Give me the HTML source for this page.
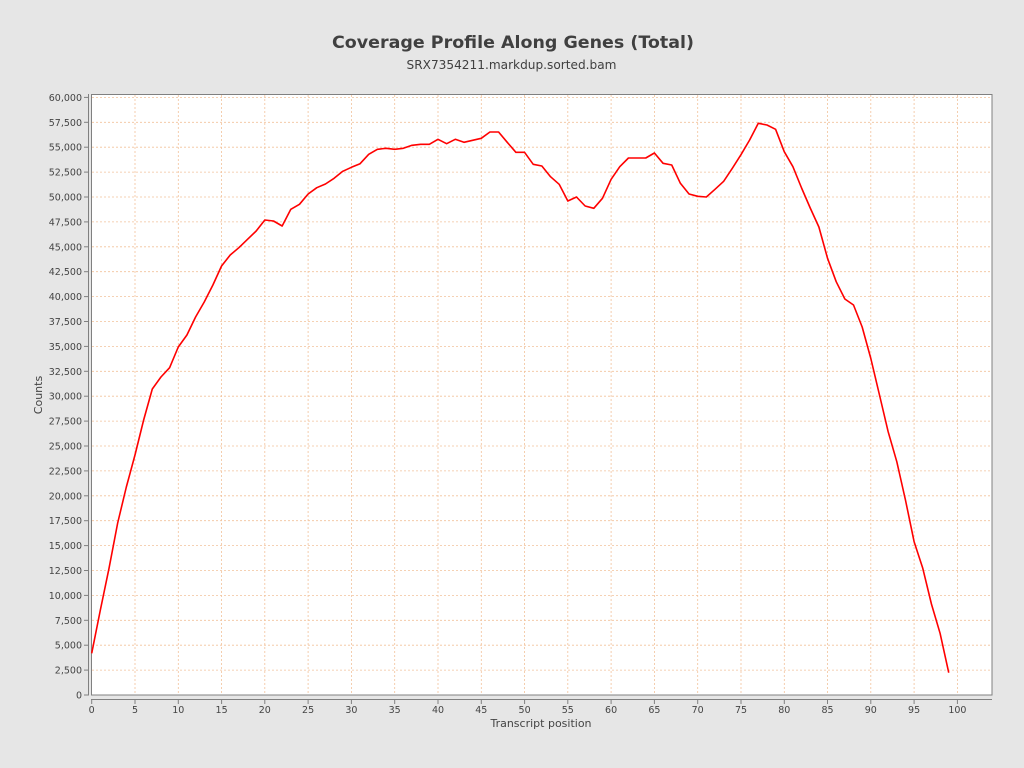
<!DOCTYPE html>
<html>
<head>
<meta charset="utf-8">
<style>
  html, body { margin: 0; padding: 0; background: #e6e6e6; }
  svg { display: block; }
  text { font-family: "DejaVu Sans", "Liberation Sans", sans-serif; }
</style>
</head>
<body>
<svg width="1024" height="768" viewBox="0 0 1024 768" xmlns="http://www.w3.org/2000/svg">
  <rect x="0" y="0" width="1024" height="768" fill="#e6e6e6"/>
  <!-- Title -->
  <text x="513" y="48" text-anchor="middle" font-size="17" font-weight="bold" fill="#404040" textLength="362" lengthAdjust="spacingAndGlyphs">Coverage Profile Along Genes (Total)</text>
  <text x="511.5" y="69" text-anchor="middle" font-size="12" fill="#404040" textLength="210" lengthAdjust="spacingAndGlyphs">SRX7354211.markdup.sorted.bam</text>

  <!-- Plot area -->
  <rect x="91.5" y="94.5" width="900.5" height="600.5" fill="#ffffff"/>

  <!-- Grid -->
  <g stroke="#f2c29b" stroke-width="0.8" stroke-dasharray="2,2" fill="none">
    <line x1="92" y1="97.4" x2="992" y2="97.4"/>
    <line x1="92" y1="122.3" x2="992" y2="122.3"/>
    <line x1="92" y1="147.2" x2="992" y2="147.2"/>
    <line x1="92" y1="172.1" x2="992" y2="172.1"/>
    <line x1="92" y1="197.0" x2="992" y2="197.0"/>
    <line x1="92" y1="221.9" x2="992" y2="221.9"/>
    <line x1="92" y1="246.8" x2="992" y2="246.8"/>
    <line x1="92" y1="271.7" x2="992" y2="271.7"/>
    <line x1="92" y1="296.6" x2="992" y2="296.6"/>
    <line x1="92" y1="321.5" x2="992" y2="321.5"/>
    <line x1="92" y1="346.4" x2="992" y2="346.4"/>
    <line x1="92" y1="371.3" x2="992" y2="371.3"/>
    <line x1="92" y1="396.2" x2="992" y2="396.2"/>
    <line x1="92" y1="421.1" x2="992" y2="421.1"/>
    <line x1="92" y1="446.0" x2="992" y2="446.0"/>
    <line x1="92" y1="470.9" x2="992" y2="470.9"/>
    <line x1="92" y1="495.8" x2="992" y2="495.8"/>
    <line x1="92" y1="520.7" x2="992" y2="520.7"/>
    <line x1="92" y1="545.6" x2="992" y2="545.6"/>
    <line x1="92" y1="570.5" x2="992" y2="570.5"/>
    <line x1="92" y1="595.4" x2="992" y2="595.4"/>
    <line x1="92" y1="620.3" x2="992" y2="620.3"/>
    <line x1="92" y1="645.2" x2="992" y2="645.2"/>
    <line x1="92" y1="670.1" x2="992" y2="670.1"/>

    <line x1="135.0" y1="95" x2="135.0" y2="695"/>
    <line x1="178.3" y1="95" x2="178.3" y2="695"/>
    <line x1="221.6" y1="95" x2="221.6" y2="695"/>
    <line x1="264.8" y1="95" x2="264.8" y2="695"/>
    <line x1="308.1" y1="95" x2="308.1" y2="695"/>
    <line x1="351.4" y1="95" x2="351.4" y2="695"/>
    <line x1="394.7" y1="95" x2="394.7" y2="695"/>
    <line x1="438.0" y1="95" x2="438.0" y2="695"/>
    <line x1="481.3" y1="95" x2="481.3" y2="695"/>
    <line x1="524.6" y1="95" x2="524.6" y2="695"/>
    <line x1="567.8" y1="95" x2="567.8" y2="695"/>
    <line x1="611.1" y1="95" x2="611.1" y2="695"/>
    <line x1="654.4" y1="95" x2="654.4" y2="695"/>
    <line x1="697.7" y1="95" x2="697.7" y2="695"/>
    <line x1="741.0" y1="95" x2="741.0" y2="695"/>
    <line x1="784.3" y1="95" x2="784.3" y2="695"/>
    <line x1="827.5" y1="95" x2="827.5" y2="695"/>
    <line x1="870.8" y1="95" x2="870.8" y2="695"/>
    <line x1="914.1" y1="95" x2="914.1" y2="695"/>
    <line x1="957.4" y1="95" x2="957.4" y2="695"/>
  </g>

  <!-- Plot border -->
  <rect x="91.5" y="94.5" width="900.5" height="600.5" fill="none" stroke="#808080" stroke-width="1"/>

  <!-- Data line -->
  <g transform="translate(91.7,0) scale(8.657,1)">
    <polyline fill="none" stroke="#ff0000" stroke-width="1.6" vector-effect="non-scaling-stroke" stroke-linejoin="round"
      points="0,653.3 1,610 2,568.3 3,523 4,487 5,455 6,420 7,389 8,377 9,367.7 10,347 11,335 12,317 13,302 14,285 15,266 16,255 17,247.7 18,239.3 19,231 20,220 21,221 22,226 23,209.3 24,204.3 25,194 26,187.7 27,184 28,178.3 29,171.3 30,167.3 31,163.7 32,154.3 33,149.3 34,148.3 35,149.3 36,148.3 37,145.3 38,144.3 39,144.3 40,139.3 41,143.7 42,139.3 43,142.3 44,140.3 45,138.3 46,132 47,132 48,142.3 49,152.3 50,152.3 51,164.3 52,166 53,176.7 54,184.3 55,201 56,197 57,206 58,208.3 59,198.3 60,179.3 61,166.7 62,158 63,158 64,158 65,153 66,163.3 67,165 68,183.3 69,194 70,196.3 71,197 72,189.3 73,181.3 74,168.3 75,154.7 76,140 77,123.3 78,125 79,129.3 80,151.7 81,166.7 82,188 83,208 84,227 85,258.3 86,281.7 87,299 88,305 89,327 90,358.5 91,395 92,431.7 93,461.7 94,500 95,541.7 96,568.3 97,604 98,633.3 99,672.7"/>
  </g>

  <!-- Axes -->
  <g stroke="#808080" stroke-width="1" fill="none">
    <line x1="88.5" y1="94" x2="88.5" y2="695.5"/>
    <line x1="91" y1="699.5" x2="992" y2="699.5"/>
  </g>
  <!-- Y ticks -->
  <g stroke="#808080" stroke-width="1">
    <line x1="84" y1="97.4" x2="88" y2="97.4"/>
    <line x1="84" y1="122.3" x2="88" y2="122.3"/>
    <line x1="84" y1="147.2" x2="88" y2="147.2"/>
    <line x1="84" y1="172.1" x2="88" y2="172.1"/>
    <line x1="84" y1="197.0" x2="88" y2="197.0"/>
    <line x1="84" y1="221.9" x2="88" y2="221.9"/>
    <line x1="84" y1="246.8" x2="88" y2="246.8"/>
    <line x1="84" y1="271.7" x2="88" y2="271.7"/>
    <line x1="84" y1="296.6" x2="88" y2="296.6"/>
    <line x1="84" y1="321.5" x2="88" y2="321.5"/>
    <line x1="84" y1="346.4" x2="88" y2="346.4"/>
    <line x1="84" y1="371.3" x2="88" y2="371.3"/>
    <line x1="84" y1="396.2" x2="88" y2="396.2"/>
    <line x1="84" y1="421.1" x2="88" y2="421.1"/>
    <line x1="84" y1="446.0" x2="88" y2="446.0"/>
    <line x1="84" y1="470.9" x2="88" y2="470.9"/>
    <line x1="84" y1="495.8" x2="88" y2="495.8"/>
    <line x1="84" y1="520.7" x2="88" y2="520.7"/>
    <line x1="84" y1="545.6" x2="88" y2="545.6"/>
    <line x1="84" y1="570.5" x2="88" y2="570.5"/>
    <line x1="84" y1="595.4" x2="88" y2="595.4"/>
    <line x1="84" y1="620.3" x2="88" y2="620.3"/>
    <line x1="84" y1="645.2" x2="88" y2="645.2"/>
    <line x1="84" y1="670.1" x2="88" y2="670.1"/>
    <line x1="84" y1="695.0" x2="88" y2="695.0"/>
  </g>
  <!-- X ticks -->
  <g stroke="#808080" stroke-width="1">
    <line x1="91.7" y1="700" x2="91.7" y2="704"/>
    <line x1="135.0" y1="700" x2="135.0" y2="704"/>
    <line x1="178.3" y1="700" x2="178.3" y2="704"/>
    <line x1="221.6" y1="700" x2="221.6" y2="704"/>
    <line x1="264.8" y1="700" x2="264.8" y2="704"/>
    <line x1="308.1" y1="700" x2="308.1" y2="704"/>
    <line x1="351.4" y1="700" x2="351.4" y2="704"/>
    <line x1="394.7" y1="700" x2="394.7" y2="704"/>
    <line x1="438.0" y1="700" x2="438.0" y2="704"/>
    <line x1="481.3" y1="700" x2="481.3" y2="704"/>
    <line x1="524.6" y1="700" x2="524.6" y2="704"/>
    <line x1="567.8" y1="700" x2="567.8" y2="704"/>
    <line x1="611.1" y1="700" x2="611.1" y2="704"/>
    <line x1="654.4" y1="700" x2="654.4" y2="704"/>
    <line x1="697.7" y1="700" x2="697.7" y2="704"/>
    <line x1="741.0" y1="700" x2="741.0" y2="704"/>
    <line x1="784.3" y1="700" x2="784.3" y2="704"/>
    <line x1="827.5" y1="700" x2="827.5" y2="704"/>
    <line x1="870.8" y1="700" x2="870.8" y2="704"/>
    <line x1="914.1" y1="700" x2="914.1" y2="704"/>
    <line x1="957.4" y1="700" x2="957.4" y2="704"/>
  </g>

  <!-- Y tick labels -->
  <g font-size="9.5" fill="#444444" text-anchor="end">
    <text x="82" y="100.9">60,000</text>
    <text x="82" y="125.8">57,500</text>
    <text x="82" y="150.7">55,000</text>
    <text x="82" y="175.6">52,500</text>
    <text x="82" y="200.5">50,000</text>
    <text x="82" y="225.4">47,500</text>
    <text x="82" y="250.3">45,000</text>
    <text x="82" y="275.2">42,500</text>
    <text x="82" y="300.1">40,000</text>
    <text x="82" y="325.0">37,500</text>
    <text x="82" y="349.9">35,000</text>
    <text x="82" y="374.8">32,500</text>
    <text x="82" y="399.7">30,000</text>
    <text x="82" y="424.6">27,500</text>
    <text x="82" y="449.5">25,000</text>
    <text x="82" y="474.4">22,500</text>
    <text x="82" y="499.3">20,000</text>
    <text x="82" y="524.2">17,500</text>
    <text x="82" y="549.1">15,000</text>
    <text x="82" y="574.0">12,500</text>
    <text x="82" y="598.9">10,000</text>
    <text x="82" y="623.8">7,500</text>
    <text x="82" y="648.7">5,000</text>
    <text x="82" y="673.6">2,500</text>
    <text x="82" y="698.5">0</text>
  </g>

  <!-- X tick labels -->
  <g font-size="9.5" fill="#444444" text-anchor="middle">
    <text x="91.7" y="713">0</text>
    <text x="135.0" y="713">5</text>
    <text x="178.3" y="713">10</text>
    <text x="221.6" y="713">15</text>
    <text x="264.8" y="713">20</text>
    <text x="308.1" y="713">25</text>
    <text x="351.4" y="713">30</text>
    <text x="394.7" y="713">35</text>
    <text x="438.0" y="713">40</text>
    <text x="481.3" y="713">45</text>
    <text x="524.6" y="713">50</text>
    <text x="567.8" y="713">55</text>
    <text x="611.1" y="713">60</text>
    <text x="654.4" y="713">65</text>
    <text x="697.7" y="713">70</text>
    <text x="741.0" y="713">75</text>
    <text x="784.3" y="713">80</text>
    <text x="827.5" y="713">85</text>
    <text x="870.8" y="713">90</text>
    <text x="914.1" y="713">95</text>
    <text x="957.4" y="713">100</text>
  </g>

  <!-- Axis labels -->
  <text x="541" y="727" text-anchor="middle" font-size="11" fill="#444444">Transcript position</text>
  <text transform="translate(42,395) rotate(-90)" text-anchor="middle" font-size="11" fill="#444444">Counts</text>
</svg>
</body>
</html>
